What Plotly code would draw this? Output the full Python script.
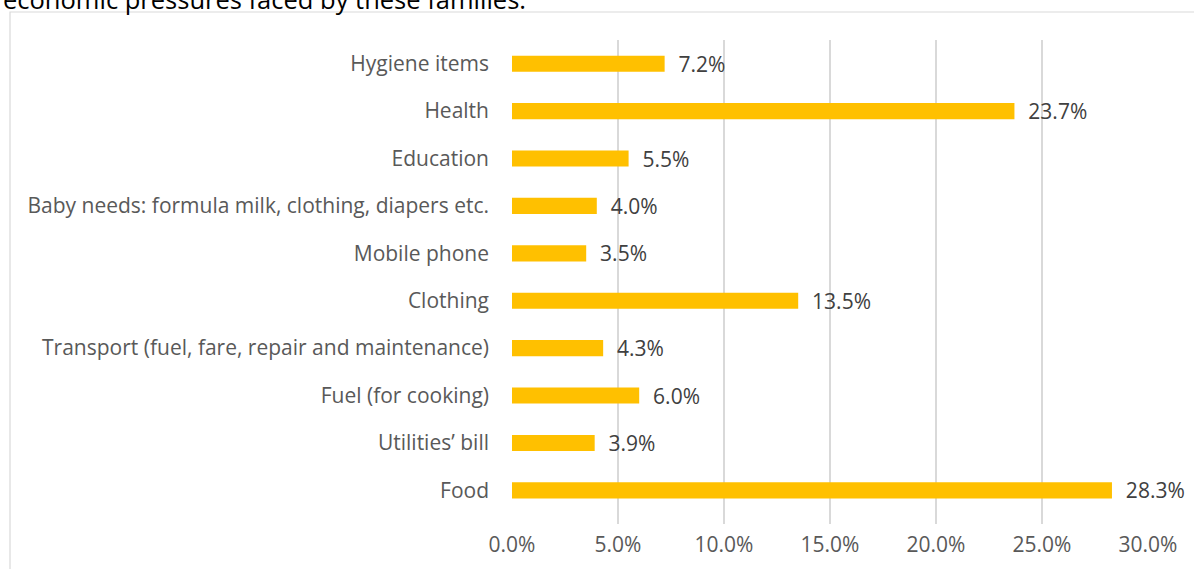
import plotly.graph_objects as go

categories = ["Hygiene items", "Health", "Education",
              "Baby needs: formula milk, clothing, diapers etc.", "Mobile phone",
              "Clothing", "Transport (fuel, fare, repair and maintenance)",
              "Fuel (for cooking)", "Utilities’ bill", "Food"]
values = [7.2, 23.7, 5.5, 4.0, 3.5, 13.5, 4.3, 6.0, 3.9, 28.3]
tick_vals = [0, 5, 10, 15, 20, 25, 30]
tick_text = ["0.0%", "5.0%", "10.0%", "15.0%", "20.0%", "25.0%", "30.0%"]
title_text = "economic pressures faced by these families."

W, H = 1194, 569
L, R, T, B = 512, 46, 40, 45
pw, ph = W - L - R, H - T - B

FONT = "Open Sans"
NB = "\u00a0"

fig = go.Figure(go.Bar(
    x=values, y=categories, orientation="h",
    marker=dict(color="#FFC000", line=dict(width=0)),
    text=[f"{NB}{NB}{v:.1f}%" for v in values], textposition="outside",
    constraintext="none",
    textfont=dict(color="#404040", size=21, family=FONT),
    cliponaxis=False, width=0.34, hoverinfo="skip",
))

fig.update_layout(
    width=W, height=H, margin=dict(l=L, r=R, t=T, b=B),
    plot_bgcolor="white", paper_bgcolor="white",
    font=dict(family=FONT, color="#595959", size=21),
    showlegend=False,
    xaxis=dict(range=[0, 30], tickvals=tick_vals, ticktext=tick_text,
               showgrid=True, gridcolor="#D9D9D9", gridwidth=1.8,
               zeroline=False, showline=False, ticks="", ticklabelstandoff=6,
               tickfont=dict(size=21, color="#595959")),
    yaxis=dict(range=[9.71, -0.5], showgrid=False, zeroline=False,
               showline=False, ticks="", ticklabelstandoff=22,
               tickfont=dict(size=21, color="#595959")),
    shapes=[dict(type="rect", xref="paper", yref="paper",
                 x0=(10 - L) / pw, x1=(W + 20 - L) / pw,
                 y0=-0.2, y1=1 + (T - 12) / ph,
                 line=dict(color="#D9D9D9", width=1.2), layer="below")],
    annotations=[dict(text=title_text, xref="paper", yref="paper",
                      x=(1 - L) / pw, y=1 + (T - 18) / ph,
                      xanchor="left", yanchor="bottom", showarrow=False,
                      font=dict(size=25.5, color="#000000", family=FONT))],
)

fig.write_html("out.html", config={"displayModeBar": False},
               post_script="document.body.style.margin='0';document.body.style.overflow='hidden';")
